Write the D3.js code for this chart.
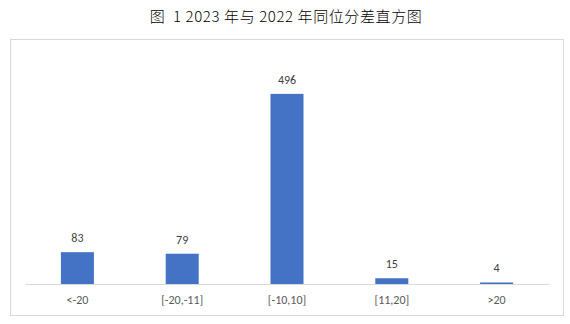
<!DOCTYPE html>
<html>
<head>
<meta charset="utf-8">
<script src="https://cdn.jsdelivr.net/npm/d3@7"></script>
<style>
  body { margin: 0; background: #fff; }
  svg text { font-family: Calibri, Carlito, "Open Sans", "Noto Sans", sans-serif; }
</style>
</head>
<body>
<div id="chart"></div>
<script>
var categories = ["<-20", "[-20,-11]", "[-10,10]", "[11,20]", ">20"]
var counts = [83, 79, 496, 15, 4]
var title = "图  1 2023 年与 2022 年同位分差直方图"

var W = 570, H = 324
var margin = { left: 25, right: 21, top: 54, bottom: 40 }
var baseY = H - margin.bottom

var svg = d3.select("#chart")
    .append("svg")
        .attr("width", W)
        .attr("height", H)

// outer frame
svg.append("rect")
    .attr("x", 10.5)
    .attr("y", 39.5)
    .attr("width", 553)
    .attr("height", 276)
    .attr("fill", "none")
    .attr("stroke", "#d9d9d9")
    .attr("stroke-width", 1)

svg.append("text")
    .attr("x", 286)
    .attr("y", 22)
    .attr("text-anchor", "middle")
    .attr("xml:space", "preserve")
    .style("white-space", "pre")
    .style("letter-spacing", "0.6px")
    .style("font-family", "'Noto Sans CJK SC', 'Noto Sans', sans-serif")
    .style("font-weight", 300)
    .attr("font-size", "15px")
    .attr("fill", "#000")
    .text(title)

var x = d3.scaleBand()
    .domain(categories)
    .range([margin.left, W - margin.right])
    .paddingInner(0.685)
    .paddingOuter(0.3425)

var y = d3.scaleLinear()
    .domain([0, 600])
    .range([baseY, margin.top])

svg.selectAll("rect.bar")
    .data(counts)
    .enter()
    .append("rect")
        .attr("class", "bar")
        .attr("x", (d, i) => x(categories[i]))
        .attr("y", d => y(d))
        .attr("width", x.bandwidth())
        .attr("height", d => baseY - y(d))
        .attr("fill", "#4472c4")

svg.selectAll("text.val")
    .data(counts)
    .enter()
    .append("text")
        .attr("class", "val")
        .attr("x", (d, i) => x(categories[i]) + x.bandwidth() / 2)
        .attr("y", d => y(d) - 10)
        .attr("text-anchor", "middle")
        .attr("font-size", "12px")
        .attr("fill", "#404040")
        .text(d => d)

var xAxis = d3.axisBottom(x).tickSize(0).tickPadding(11)
var gx = svg.append("g")
    .attr("transform", "translate(0," + baseY + ")")
    .call(xAxis)
gx.select(".domain").attr("stroke", "#d9d9d9").attr("stroke-width", 1)
gx.selectAll("text")
    .attr("font-size", "12px")
    .attr("fill", "#595959")
    .style("font-family", "Calibri, Carlito, 'Open Sans', sans-serif")
</script>
</body>
</html>
